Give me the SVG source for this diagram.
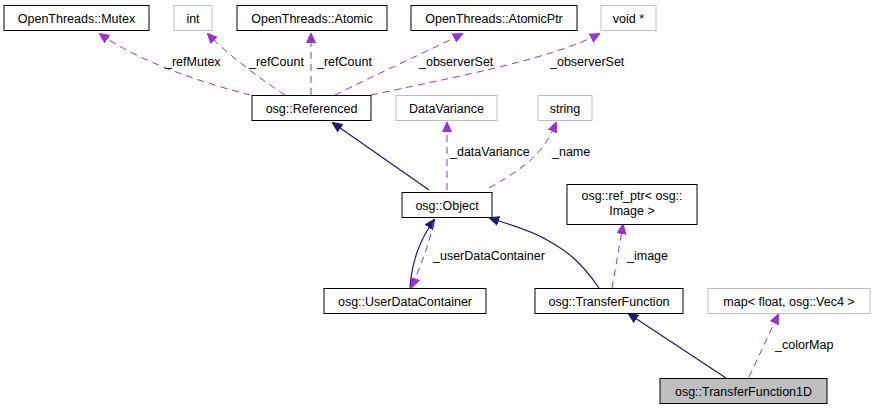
<svg xmlns="http://www.w3.org/2000/svg" width="876" height="409" viewBox="0 0 876 409">
<style>
text{font-family:"Liberation Sans",Arial,sans-serif;font-size:12.5px;fill:#000}
.n rect{fill:#fff;stroke:#000;stroke-width:1}
.g rect{fill:#fff;stroke:#bfbfbf;stroke-width:1}
.c{text-anchor:middle}
.u{fill:none;stroke:#9a32cd;stroke-dasharray:7,5;stroke-width:1}
.s{fill:none;stroke:#191970;stroke-width:1.2}
</style>
<defs>
<marker id="ap" markerWidth="10" markerHeight="10" refX="9" refY="5" orient="auto" markerUnits="userSpaceOnUse"><path d="M0,0.5 L10,5 L0,9.5z" fill="#9a32cd" stroke="#9a32cd"/></marker>
<marker id="an" markerWidth="10" markerHeight="10" refX="9" refY="5" orient="auto" markerUnits="userSpaceOnUse"><path d="M0,0.5 L10,5 L0,9.5z" fill="#191970" stroke="#191970"/></marker>
</defs>
<rect width="876" height="409" fill="#fff"/>
<g id="connectors">
<path class="u" marker-end="url(#ap)" d="M250,95 C200,82 140,62 100,34"/>
<path class="u" marker-end="url(#ap)" d="M285,95 C262,80 228,55 208,34"/>
<path class="u" marker-end="url(#ap)" d="M311,95 L311,34"/>
<path class="u" marker-end="url(#ap)" d="M335,95 C375,75 430,50 462,34"/>
<path class="u" marker-end="url(#ap)" d="M371,95 C440,80 550,60 599,34"/>
<path class="s" marker-end="url(#an)" d="M429,190 L333,123"/>
<path class="u" marker-end="url(#ap)" d="M447,190 L447,123"/>
<path class="u" marker-end="url(#ap)" d="M489,188 C530,165 545,150 556,123"/>
<path class="s" marker-end="url(#an)" d="M410,288 C412,260 420,240 434,220"/>
<path class="u" marker-end="url(#ap)" d="M433,222 C430,245 420,265 412,287"/>
<path class="s" marker-end="url(#an)" d="M599,288 C580,260 565,250 547,240 C530,230 510,225 490,218"/>
<path class="u" marker-end="url(#ap)" d="M612,288 L623,225"/>
<path class="s" marker-end="url(#an)" d="M726,378 L629,314"/>
<path class="u" marker-end="url(#ap)" d="M749,377 L778,315"/>
</g>
<g id="mutex" class="n"><rect x="4" y="5.5" width="145" height="25"/><text class="c" x="76.5" y="22.5">OpenThreads::Mutex</text></g>
<g id="int" class="g"><rect x="174" y="5.5" width="38" height="25"/><text class="c" x="193" y="22.5">int</text></g>
<g id="atomic" class="n"><rect x="237" y="5.5" width="150" height="25"/><text class="c" x="312" y="22.5">OpenThreads::Atomic</text></g>
<g id="atomicptr" class="n"><rect x="411" y="5.5" width="166" height="25"/><text class="c" x="494" y="22.5">OpenThreads::AtomicPtr</text></g>
<g id="voidptr" class="g"><rect x="601" y="5.5" width="55" height="25"/><text class="c" x="628.5" y="22.5">void *</text></g>
<text x="165" y="66">_refMutex</text>
<text x="249" y="66">_refCount</text>
<text x="317" y="66">_refCount</text>
<text x="419" y="66">_observerSet</text>
<text x="550" y="66">_observerSet</text>
<g id="referenced" class="n"><rect x="252" y="95.5" width="119" height="25"/><text class="c" x="311.5" y="112.5">osg::Referenced</text></g>
<g id="datavariance" class="g"><rect x="396" y="95.5" width="101" height="25"/><text class="c" x="446.5" y="112.5">DataVariance</text></g>
<g id="string" class="g"><rect x="538" y="95.5" width="54" height="25"/><text class="c" x="565" y="112.5">string</text></g>
<text x="450" y="156">_dataVariance</text>
<text x="552" y="156">_name</text>
<g id="object" class="n"><rect x="402" y="192.5" width="90" height="25"/><text class="c" x="447" y="209.5">osg::Object</text></g>
<g id="refptr" class="n"><rect x="567" y="184.5" width="130" height="40"/><text class="c" x="632" y="200">osg::ref_ptr&lt; osg::</text><text class="c" x="632" y="215">Image &gt;</text></g>
<text x="433" y="260">_userDataContainer</text>
<text x="627" y="260">_image</text>
<g id="userdatacontainer" class="n"><rect x="324" y="288.5" width="162" height="25"/><text class="c" x="405" y="305.5">osg::UserDataContainer</text></g>
<g id="transferfunction" class="n"><rect x="535" y="288.5" width="148" height="25"/><text class="c" x="609" y="305.5">osg::TransferFunction</text></g>
<g id="map" class="g"><rect x="708" y="288.5" width="162" height="25"/><text class="c" x="789" y="305.5">map&lt; float, osg::Vec4 &gt;</text></g>
<text x="775" y="349">_colorMap</text>
<g id="transferfunction1d" class="n"><rect x="660" y="378.5" width="167" height="25" style="fill:#bfbfbf"/><text class="c" x="743.5" y="395.5">osg::TransferFunction1D</text></g>
</svg>
